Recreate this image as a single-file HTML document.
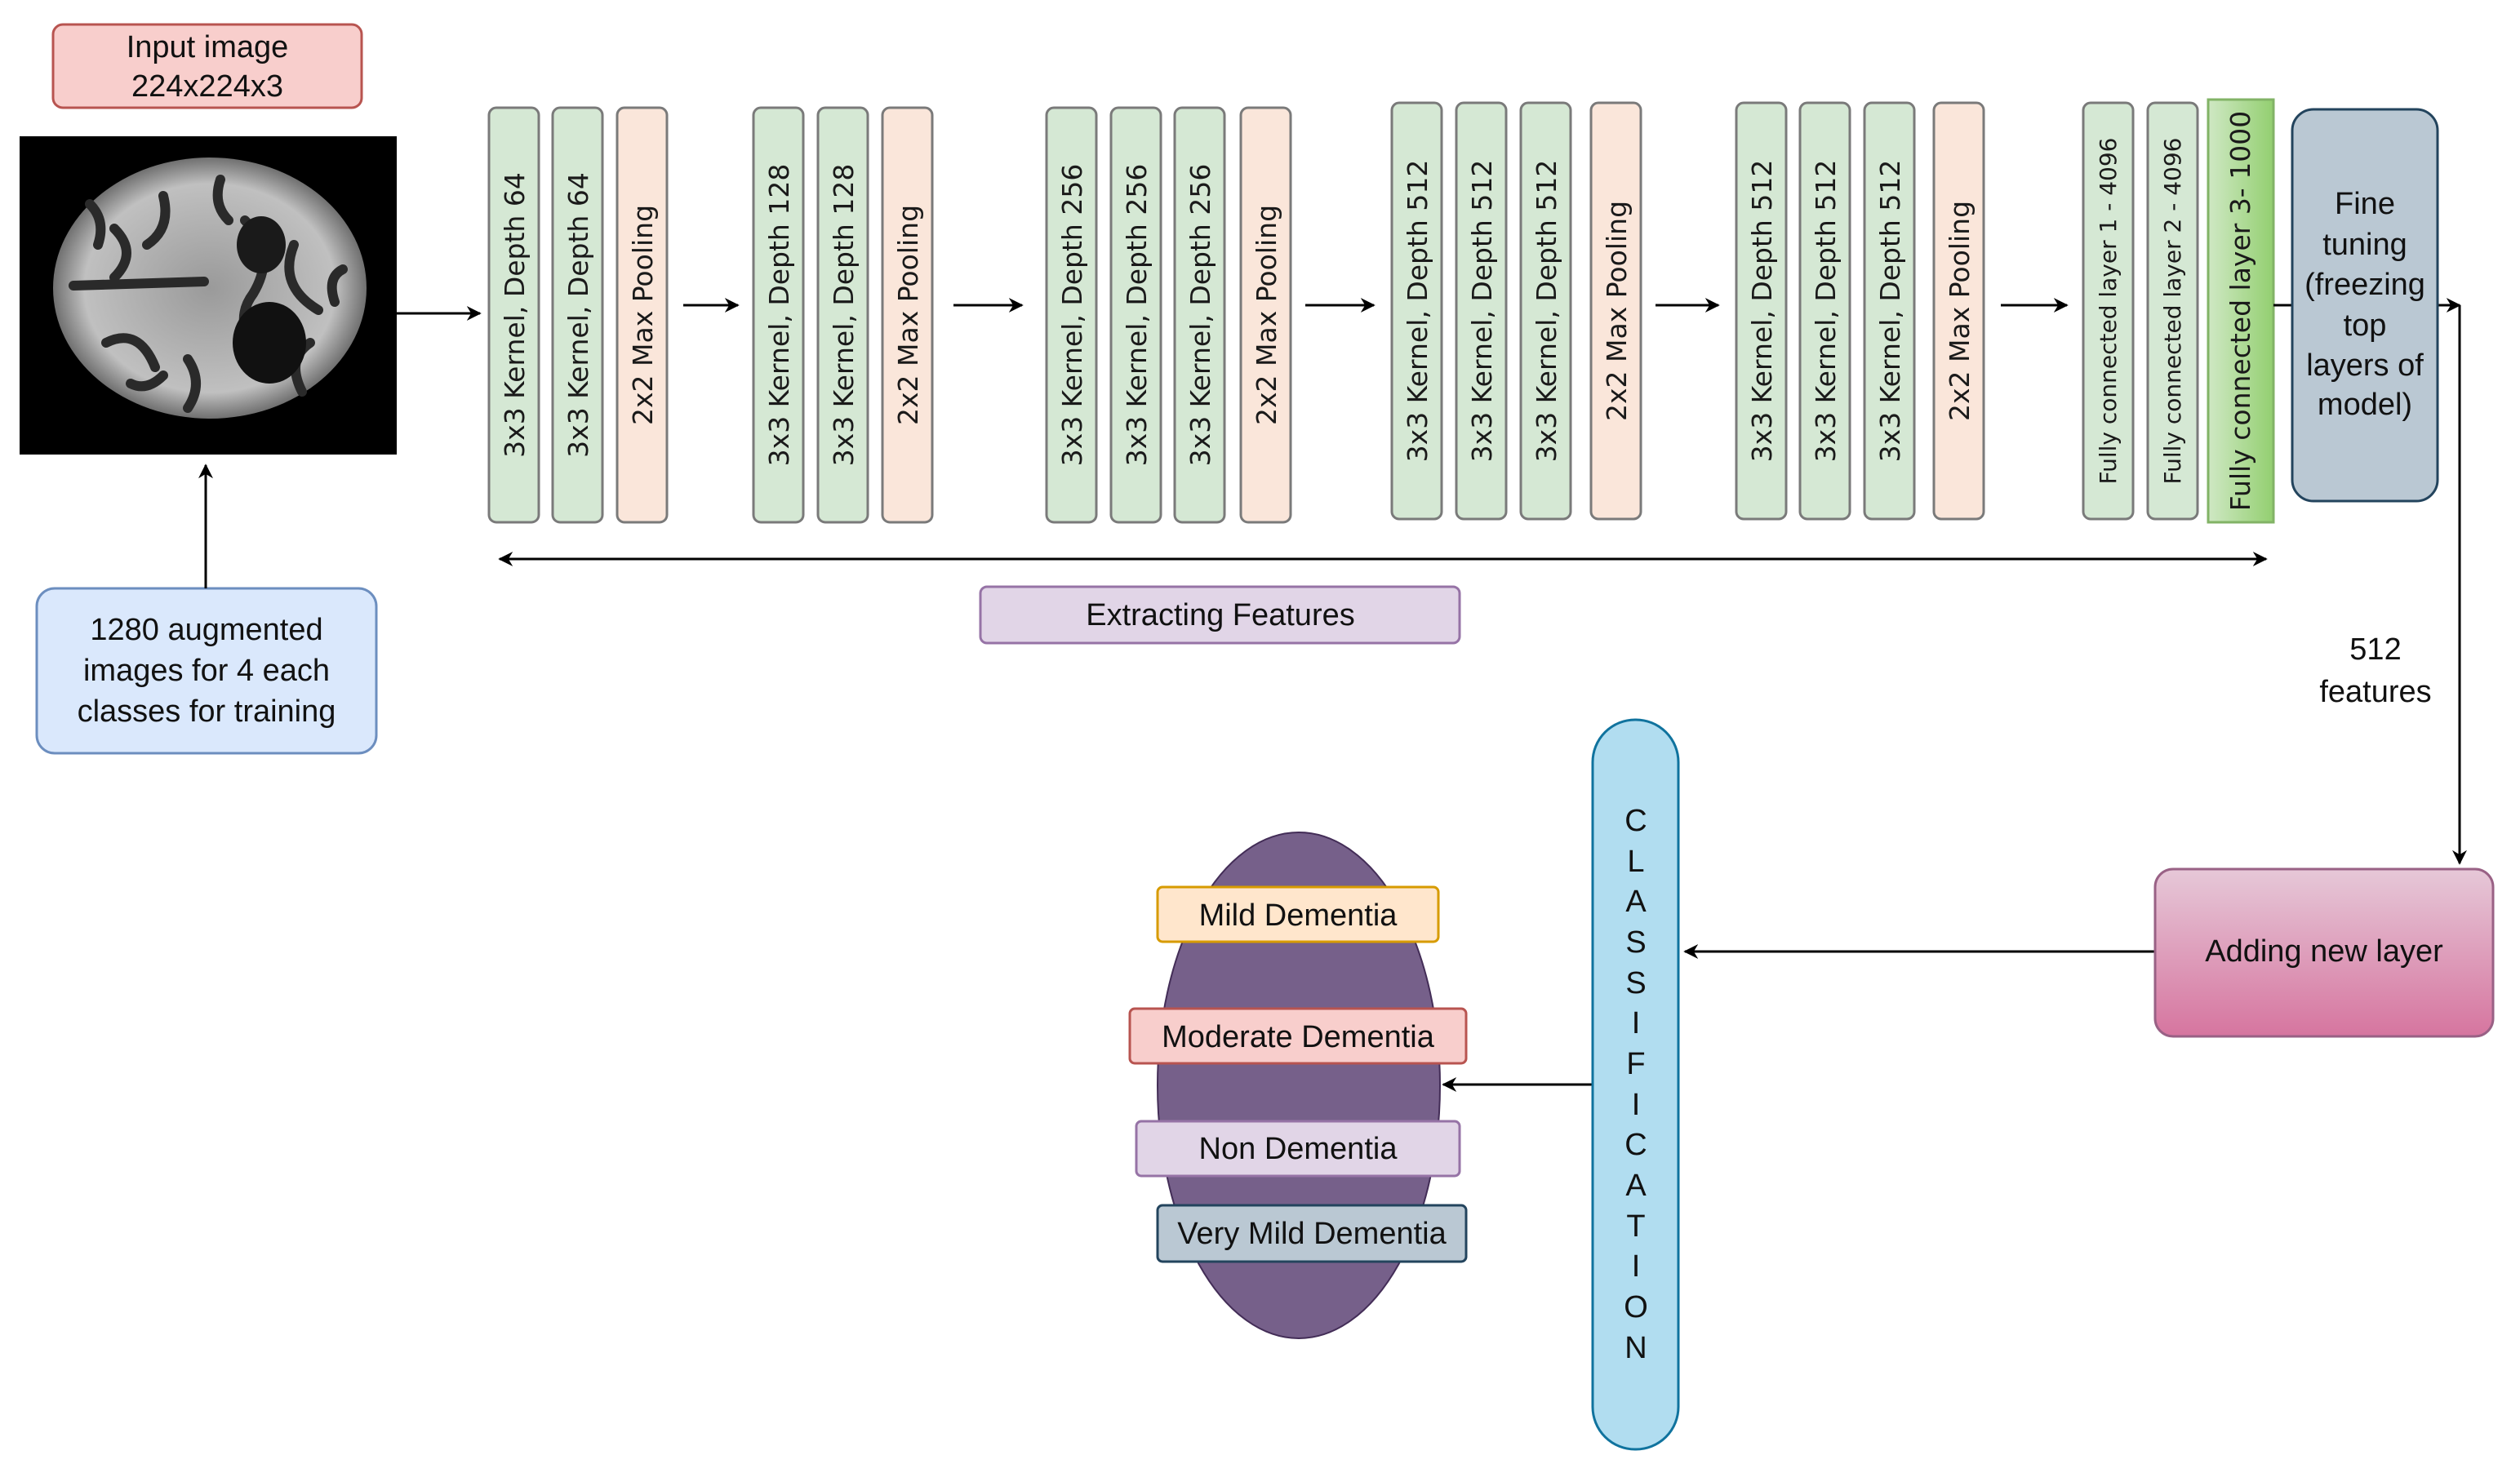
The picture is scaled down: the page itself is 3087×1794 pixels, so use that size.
<!DOCTYPE html>
<html><head><meta charset="utf-8"><style>
html,body{margin:0;padding:0;background:#fff;}
svg{display:block;}
text{font-family:"Liberation Sans",sans-serif;fill:#111;}
.c{font-family:"DejaVu Sans",sans-serif;font-size:33px;fill:#1a1a1a;font-weight:500;}
.f{font-family:"DejaVu Sans",sans-serif;font-size:28px;fill:#1a1a1a;}
</style></head><body>
<svg width="3087" height="1794" viewBox="0 0 3087 1794" xmlns="http://www.w3.org/2000/svg">
<defs>
<marker id="a" viewBox="0 0 10 10" refX="9" refY="5" markerWidth="6" markerHeight="6" orient="auto-start-reverse"><path d="M0,0 L10,5 L0,10 L3,5 z" fill="#000"/></marker>
<linearGradient id="pk" x1="0" y1="0" x2="0" y2="1"><stop offset="0" stop-color="#e6c8d8"/><stop offset="1" stop-color="#d6759f"/></linearGradient>
<linearGradient id="fc" x1="0" y1="0" x2="1" y2="0"><stop offset="0" stop-color="#cfe8c4"/><stop offset="1" stop-color="#93cf70"/></linearGradient>
<radialGradient id="br" cx="0.5" cy="0.5" r="0.5"><stop offset="0" stop-color="#9a9a9a"/><stop offset="0.8" stop-color="#c0c0c0"/><stop offset="1" stop-color="#707070"/></radialGradient>
</defs>

<rect x="65" y="30" width="378" height="102" rx="12" fill="#f8cecc" stroke="#b85450" stroke-width="3"/>
<text x="254" y="70" font-size="38" text-anchor="middle">Input image</text>
<text x="254" y="118" font-size="38" text-anchor="middle">224x224x3</text>

<rect x="24" y="167" width="462" height="390" fill="#000"/>
<ellipse cx="257" cy="353" rx="192" ry="160" fill="url(#br)"/>
<g stroke="#2a2a2a" stroke-width="12" fill="none" stroke-linecap="round">
<path d="M90,350 L250,345"/><path d="M300,270 q40,40 10,90 q-30,40 20,90"/><path d="M140,280 q30,30 0,60"/><path d="M130,420 q40,-20 60,30"/><path d="M360,300 q-20,50 30,80"/><path d="M200,240 q10,40 -20,60"/><path d="M380,420 q-30,20 -10,60"/><path d="M230,440 q20,30 0,60"/>
<path d="M110,250 q20,20 10,50"/><path d="M160,470 q20,10 40,-10"/><path d="M270,220 q-10,30 10,50"/><path d="M420,330 q-20,10 -10,40"/>
</g>
<ellipse cx="330" cy="420" rx="45" ry="50" fill="#111"/>
<ellipse cx="320" cy="300" rx="30" ry="35" fill="#1a1a1a"/>

<rect x="45" y="721" width="416" height="202" rx="22" fill="#dae8fc" stroke="#6c8ebf" stroke-width="3"/>
<text x="253" y="784" font-size="38" text-anchor="middle">1280 augmented</text>
<text x="253" y="834" font-size="38" text-anchor="middle">images for 4 each</text>
<text x="253" y="884" font-size="38" text-anchor="middle">classes for training</text>
<line x1="252" y1="721" x2="252" y2="570" stroke="#000" stroke-width="3" marker-end="url(#a)"/>
<line x1="486" y1="384" x2="588" y2="384" stroke="#000" stroke-width="3" marker-end="url(#a)"/>

<g stroke="#7a7a7a" stroke-width="3">
<rect x="599" y="132" width="61" height="508" rx="9" fill="#d5e8d4"/>
<rect x="677" y="132" width="61" height="508" rx="9" fill="#d5e8d4"/>
<rect x="756" y="132" width="61" height="508" rx="9" fill="#fae6da"/>
<rect x="923" y="132" width="61" height="508" rx="9" fill="#d5e8d4"/>
<rect x="1002" y="132" width="61" height="508" rx="9" fill="#d5e8d4"/>
<rect x="1081" y="132" width="61" height="508" rx="9" fill="#fae6da"/>
<rect x="1282" y="132" width="61" height="508" rx="9" fill="#d5e8d4"/>
<rect x="1361" y="132" width="61" height="508" rx="9" fill="#d5e8d4"/>
<rect x="1439" y="132" width="61" height="508" rx="9" fill="#d5e8d4"/>
<rect x="1520" y="132" width="61" height="508" rx="9" fill="#fae6da"/>
<rect x="1705" y="126" width="61" height="510" rx="9" fill="#d5e8d4"/>
<rect x="1784" y="126" width="61" height="510" rx="9" fill="#d5e8d4"/>
<rect x="1863" y="126" width="61" height="510" rx="9" fill="#d5e8d4"/>
<rect x="1949" y="126" width="61" height="510" rx="9" fill="#fae6da"/>
<rect x="2127" y="126" width="61" height="510" rx="9" fill="#d5e8d4"/>
<rect x="2205" y="126" width="61" height="510" rx="9" fill="#d5e8d4"/>
<rect x="2284" y="126" width="61" height="510" rx="9" fill="#d5e8d4"/>
<rect x="2369" y="126" width="61" height="510" rx="9" fill="#fae6da"/>
<rect x="2552" y="126" width="61" height="510" rx="9" fill="#d5e8d4"/>
<rect x="2631" y="126" width="61" height="510" rx="9" fill="#d5e8d4"/>
</g>
<rect x="2705" y="122" width="80" height="518" fill="url(#fc)" stroke="#82b366" stroke-width="3"/>

<g>
<text class="c" transform="translate(642,386) rotate(-90)" text-anchor="middle">3x3 Kernel, Depth 64</text>
<text class="c" transform="translate(720,386) rotate(-90)" text-anchor="middle">3x3 Kernel, Depth 64</text>
<text class="c" transform="translate(799,386) rotate(-90)" text-anchor="middle">2x2 Max Pooling</text>
<text class="c" transform="translate(966,386) rotate(-90)" text-anchor="middle">3x3 Kernel, Depth 128</text>
<text class="c" transform="translate(1045,386) rotate(-90)" text-anchor="middle">3x3 Kernel, Depth 128</text>
<text class="c" transform="translate(1124,386) rotate(-90)" text-anchor="middle">2x2 Max Pooling</text>
<text class="c" transform="translate(1325,386) rotate(-90)" text-anchor="middle">3x3 Kernel, Depth 256</text>
<text class="c" transform="translate(1404,386) rotate(-90)" text-anchor="middle">3x3 Kernel, Depth 256</text>
<text class="c" transform="translate(1482,386) rotate(-90)" text-anchor="middle">3x3 Kernel, Depth 256</text>
<text class="c" transform="translate(1563,386) rotate(-90)" text-anchor="middle">2x2 Max Pooling</text>
<text class="c" transform="translate(1748,381) rotate(-90)" text-anchor="middle">3x3 Kernel, Depth 512</text>
<text class="c" transform="translate(1827,381) rotate(-90)" text-anchor="middle">3x3 Kernel, Depth 512</text>
<text class="c" transform="translate(1906,381) rotate(-90)" text-anchor="middle">3x3 Kernel, Depth 512</text>
<text class="c" transform="translate(1992,381) rotate(-90)" text-anchor="middle">2x2 Max Pooling</text>
<text class="c" transform="translate(2170,381) rotate(-90)" text-anchor="middle">3x3 Kernel, Depth 512</text>
<text class="c" transform="translate(2248,381) rotate(-90)" text-anchor="middle">3x3 Kernel, Depth 512</text>
<text class="c" transform="translate(2327,381) rotate(-90)" text-anchor="middle">3x3 Kernel, Depth 512</text>
<text class="c" transform="translate(2412,381) rotate(-90)" text-anchor="middle">2x2 Max Pooling</text>
</g>
<text class="f" transform="translate(2592,381) rotate(-90)" text-anchor="middle">Fully connected layer 1 - 4096</text>
<text class="f" transform="translate(2671,381) rotate(-90)" text-anchor="middle">Fully connected layer 2 - 4096</text>
<text class="c" transform="translate(2756,381) rotate(-90)" text-anchor="middle">Fully connected layer 3- 1000</text>

<g stroke="#000" stroke-width="3">
<line x1="837" y1="374" x2="904" y2="374" marker-end="url(#a)"/>
<line x1="1168" y1="374" x2="1252" y2="374" marker-end="url(#a)"/>
<line x1="1599" y1="374" x2="1683" y2="374" marker-end="url(#a)"/>
<line x1="2028" y1="374" x2="2105" y2="374" marker-end="url(#a)"/>
<line x1="2451" y1="374" x2="2532" y2="374" marker-end="url(#a)"/>
<line x1="2785" y1="374" x2="2808" y2="374"/>
<line x1="2986" y1="374" x2="3013" y2="374" marker-end="url(#a)"/>
<polyline points="3013,374 3013,1058" fill="none" marker-end="url(#a)"/>
<line x1="612" y1="685" x2="2776" y2="685" marker-start="url(#a)" marker-end="url(#a)"/>
<line x1="2640" y1="1166" x2="2064" y2="1166" marker-end="url(#a)"/>
<line x1="1951" y1="1329" x2="1768" y2="1329" marker-end="url(#a)"/>
</g>

<rect x="2808" y="134" width="178" height="480" rx="26" fill="#bac8d3" stroke="#23445d" stroke-width="3"/>
<g font-size="38" text-anchor="middle">
<text x="2897" y="262">Fine</text>
<text x="2897" y="312">tuning</text>
<text x="2897" y="361">(freezing</text>
<text x="2897" y="411">top</text>
<text x="2897" y="460">layers of</text>
<text x="2897" y="508">model)</text>
</g>

<rect x="1201" y="719" width="587" height="69" rx="8" fill="#e1d5e7" stroke="#9673a6" stroke-width="3"/>
<text x="1495" y="766" font-size="38" text-anchor="middle">Extracting Features</text>

<text x="2910" y="808" font-size="38" text-anchor="middle">512</text>
<text x="2910" y="860" font-size="38" text-anchor="middle">features</text>

<rect x="2640" y="1065" width="414" height="205" rx="22" fill="url(#pk)" stroke="#996185" stroke-width="3"/>
<text x="2847" y="1178" font-size="38" text-anchor="middle">Adding new layer</text>

<rect x="1951" y="882" width="105" height="894" rx="52" fill="#b1ddf0" stroke="#10739e" stroke-width="3"/>
<g font-size="38" text-anchor="middle">
<text x="2004" y="1018">C</text><text x="2004" y="1068">L</text><text x="2004" y="1117">A</text><text x="2004" y="1167">S</text><text x="2004" y="1217">S</text><text x="2004" y="1266">I</text><text x="2004" y="1316">F</text><text x="2004" y="1366">I</text><text x="2004" y="1415">C</text><text x="2004" y="1465">A</text><text x="2004" y="1515">T</text><text x="2004" y="1564">I</text><text x="2004" y="1614">O</text><text x="2004" y="1664">N</text>
</g>

<ellipse cx="1591" cy="1330" rx="173" ry="310" fill="#76608a" stroke="#432d57" stroke-width="2"/>
<rect x="1418" y="1087" width="344" height="67" rx="6" fill="#ffe6cc" stroke="#d79b00" stroke-width="3"/>
<text x="1590" y="1134" font-size="38" text-anchor="middle">Mild Dementia</text>
<rect x="1384" y="1236" width="412" height="67" rx="6" fill="#f8cecc" stroke="#b85450" stroke-width="3"/>
<text x="1590" y="1283" font-size="38" text-anchor="middle">Moderate Dementia</text>
<rect x="1392" y="1374" width="396" height="67" rx="6" fill="#e1d5e7" stroke="#9673a6" stroke-width="3"/>
<text x="1590" y="1420" font-size="38" text-anchor="middle">Non Dementia</text>
<rect x="1418" y="1477" width="378" height="69" rx="6" fill="#bac8d3" stroke="#23445d" stroke-width="3"/>
<text x="1607" y="1524" font-size="38" text-anchor="middle">Very Mild Dementia</text>
</svg>
</body></html>
